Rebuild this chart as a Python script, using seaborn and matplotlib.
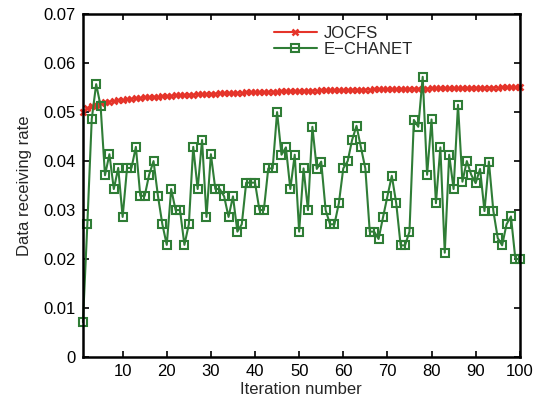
import numpy as np
import pandas as pd
import matplotlib
matplotlib.use("Agg")
import matplotlib.pyplot as plt
import seaborn as sns

iterations = list(range(1, 101))

jocfs = [0.05000, 0.05076, 0.05121, 0.05152, 0.05177, 0.05197, 0.05214, 0.05229, 0.05242, 0.05253,
         0.05264, 0.05273, 0.05282, 0.05290, 0.05298, 0.05305, 0.05312, 0.05318, 0.05324, 0.05330,
         0.05335, 0.05340, 0.05345, 0.05350, 0.05354, 0.05358, 0.05363, 0.05367, 0.05370, 0.05374,
         0.05378, 0.05381, 0.05385, 0.05388, 0.05391, 0.05394, 0.05397, 0.05400, 0.05403, 0.05406,
         0.05409, 0.05411, 0.05414, 0.05416, 0.05419, 0.05421, 0.05424, 0.05426, 0.05428, 0.05430,
         0.05433, 0.05435, 0.05437, 0.05439, 0.05441, 0.05443, 0.05445, 0.05447, 0.05449, 0.05450,
         0.05452, 0.05454, 0.05456, 0.05457, 0.05459, 0.05461, 0.05463, 0.05464, 0.05466, 0.05467,
         0.05469, 0.05470, 0.05472, 0.05473, 0.05475, 0.05476, 0.05478, 0.05479, 0.05481, 0.05482,
         0.05483, 0.05485, 0.05486, 0.05487, 0.05489, 0.05490, 0.05491, 0.05492, 0.05494, 0.05495,
         0.05496, 0.05497, 0.05499, 0.05500, 0.05501, 0.05502, 0.05503, 0.05504, 0.05505, 0.05507]

echanet = [0.0071, 0.0271, 0.0486, 0.0557, 0.0513, 0.0371, 0.0414, 0.0343, 0.0386, 0.0286,
           0.0386, 0.0386, 0.0429, 0.0329, 0.0329, 0.0372, 0.0400, 0.0329, 0.0271, 0.0229,
           0.0343, 0.0300, 0.0300, 0.0229, 0.0271, 0.0429, 0.0343, 0.0443, 0.0286, 0.0414,
           0.0343, 0.0343, 0.0328, 0.0286, 0.0328, 0.0256, 0.0271, 0.0356, 0.0356, 0.0356,
           0.0300, 0.0300, 0.0385, 0.0385, 0.0500, 0.0413, 0.0428, 0.0343, 0.0413, 0.0256,
           0.0385, 0.0300, 0.0470, 0.0384, 0.0399, 0.0300, 0.0271, 0.0271, 0.0314, 0.0385,
           0.0400, 0.0443, 0.0472, 0.0428, 0.0385, 0.0256, 0.0256, 0.0241, 0.0285, 0.0328,
           0.0370, 0.0314, 0.0228, 0.0228, 0.0256, 0.0484, 0.0470, 0.0572, 0.0372, 0.0485,
           0.0314, 0.0428, 0.0213, 0.0413, 0.0343, 0.0515, 0.0358, 0.0400, 0.0372, 0.0355,
           0.0384, 0.0298, 0.0399, 0.0299, 0.0243, 0.0228, 0.0271, 0.0287, 0.0200, 0.0200]

x_ticks = [10, 20, 30, 40, 50, 60, 70, 80, 90, 100]
y_ticks = [0, 0.01, 0.02, 0.03, 0.04, 0.05, 0.06, 0.07]
y_ticklabels = ["0", "0.01", "0.02", "0.03", "0.04", "0.05", "0.06", "0.07"]

sns.set_style("white")
plt.rcParams["font.family"] = ["Liberation Sans", "DejaVu Sans"]

fig = plt.figure(figsize=(5.42, 4.03), dpi=100)
ax = fig.add_axes([0.153, 0.114, 0.806, 0.851])

df = pd.DataFrame({"it": iterations, "JOCFS": jocfs, "E-CHANET": echanet})

red = "#e5342a"
green = "#2f7d36"

sns.lineplot(data=df, x="it", y="JOCFS", ax=ax, color=red, linewidth=1.5,
             marker="x", markersize=5, markeredgewidth=1.8, markeredgecolor=red,
             label="JOCFS", clip_on=False, zorder=3)
sns.lineplot(data=df, x="it", y="E-CHANET", ax=ax, color=green, linewidth=1.5,
             marker="s", markersize=6, markerfacecolor="none", markeredgewidth=1.5,
             markeredgecolor=green, label="E\u2212CHANET", clip_on=False, zorder=4)

ax.set_xlim(1, 100)
ax.set_ylim(0, 0.07)
ax.set_xticks(x_ticks)
ax.set_xticklabels([str(t) for t in x_ticks])
ax.set_yticks(y_ticks)
ax.set_yticklabels(y_ticklabels)
ax.tick_params(direction="in", length=4, width=1.2, labelsize=12, colors="black",
               top=True, right=True, bottom=True, left=True, pad=5)
ax.set_xlabel("Iteration number", fontsize=12, labelpad=2)
ax.set_ylabel("Data receiving rate", fontsize=12, labelpad=8)
for s in ax.spines.values():
    s.set_visible(True)
    s.set_color("black")
    s.set_linewidth(1.8)
    s.set_zorder(5)
ax.grid(False)

ax.legend(loc="upper left", bbox_to_anchor=(0.41, 1.0), frameon=False, fontsize=12,
          handlelength=2.6, handletextpad=0.4, labelspacing=0.05, borderaxespad=0.3)

fig.savefig("out.png", dpi=100)
